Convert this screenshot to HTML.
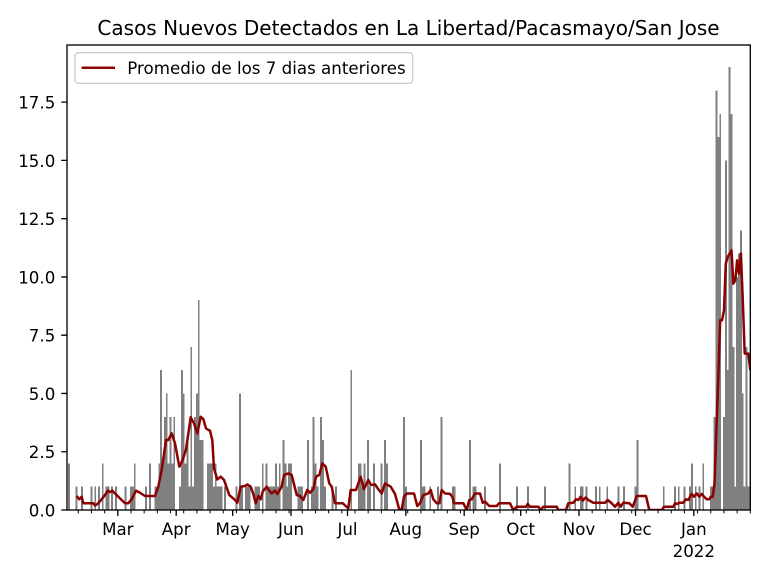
<!DOCTYPE html>
<html><head><meta charset="utf-8"><style>
body{margin:0;background:#fff}
svg{display:block}
text{font-family:"DejaVu Sans","Liberation Sans",sans-serif;fill:#000}
</style></head><body>
<svg width="768" height="576" viewBox="0 0 768 576" xmlns="http://www.w3.org/2000/svg">
<rect width="768" height="576" fill="#fff"/>
<defs><clipPath id="c"><rect x="67" y="45" width="683.3" height="465"/></clipPath></defs>
<g clip-path="url(#c)">
<g fill="#808080" shape-rendering="crispEdges" transform="translate(67,510) scale(1.8824,-23.308) translate(-0.5,0)">
<path d="M1 0h1v2h-1zM5 0h1v1h-1zM8 0h1v1h-1zM13 0h1v1h-1zM15 0h1v1h-1zM17 0h1v1h-1zM19 0h1v2h-1zM21 0h1v1h-1zM22 0h1v1h-1zM24 0h1v1h-1zM26 0h1v1h-1zM31 0h1v1h-1zM34 0h1v1h-1zM35 0h1v1h-1zM36 0h1v2h-1zM42 0h1v1h-1zM44 0h1v2h-1zM47 0h1v1h-1zM48 0h1v1h-1zM49 0h1v2h-1zM50 0h1v6h-1zM51 0h1v2h-1zM52 0h1v4h-1zM53 0h1v5h-1zM54 0h1v2h-1zM55 0h1v4h-1zM56 0h1v2h-1zM57 0h1v4h-1zM60 0h1v1h-1zM61 0h1v6h-1zM62 0h1v5h-1zM63 0h1v2h-1zM64 0h1v3h-1zM65 0h1v1h-1zM66 0h1v7h-1zM67 0h1v1h-1zM68 0h1v4h-1zM69 0h1v5h-1zM70 0h1v9h-1zM71 0h1v3h-1zM72 0h1v3h-1zM75 0h1v2h-1zM76 0h1v2h-1zM77 0h1v2h-1zM78 0h1v1h-1zM79 0h1v2h-1zM80 0h1v1h-1zM81 0h1v1h-1zM82 0h1v1h-1zM84 0h1v1h-1zM90 0h1v1h-1zM92 0h1v5h-1zM93 0h1v1h-1zM95 0h1v1h-1zM96 0h1v1h-1zM97 0h1v1h-1zM100 0h1v1h-1zM101 0h1v1h-1zM102 0h1v1h-1zM104 0h1v2h-1zM106 0h1v2h-1zM107 0h1v1h-1zM108 0h1v1h-1zM109 0h1v1h-1zM110 0h1v1h-1zM111 0h1v2h-1zM112 0h1v1h-1zM113 0h1v2h-1zM115 0h1v3h-1zM116 0h1v2h-1zM117 0h1v1h-1zM118 0h1v2h-1zM119 0h1v2h-1zM123 0h1v1h-1zM124 0h1v1h-1zM125 0h1v1h-1zM128 0h1v3h-1zM130 0h1v1h-1zM131 0h1v4h-1zM132 0h1v2h-1zM133 0h1v1h-1zM135 0h1v4h-1zM136 0h1v3h-1zM137 0h1v1h-1zM141 0h1v1h-1zM143 0h1v1h-1zM151 0h1v6h-1zM155 0h1v2h-1zM156 0h1v2h-1zM157 0h1v1h-1zM158 0h1v2h-1zM160 0h1v3h-1zM161 0h1v1h-1zM163 0h1v2h-1zM167 0h1v2h-1zM169 0h1v3h-1zM170 0h1v2h-1zM179 0h1v4h-1zM180 0h1v1h-1zM188 0h1v3h-1zM189 0h1v1h-1zM190 0h1v1h-1zM193 0h1v1h-1zM197 0h1v1h-1zM199 0h1v4h-1zM205 0h1v1h-1zM206 0h1v1h-1zM214 0h1v3h-1zM216 0h1v1h-1zM217 0h1v1h-1zM222 0h1v1h-1zM230 0h1v2h-1zM239 0h1v1h-1zM245 0h1v1h-1zM254 0h1v1h-1zM267 0h1v2h-1zM270 0h1v1h-1zM273 0h1v1h-1zM274 0h1v1h-1zM276 0h1v1h-1zM281 0h1v1h-1zM283 0h1v1h-1zM287 0h1v1h-1zM293 0h1v1h-1zM296 0h1v1h-1zM302 0h1v1h-1zM303 0h1v3h-1zM317 0h1v1h-1zM323 0h1v1h-1zM325 0h1v1h-1zM328 0h1v1h-1zM331 0h1v1h-1zM332 0h1v2h-1zM334 0h1v1h-1zM336 0h1v1h-1zM338 0h1v2h-1zM342 0h1v1h-1zM343 0h1v1h-1zM344 0h1v4h-1zM345 0h1v18h-1zM346 0h1v16h-1zM347 0h1v17h-1zM349 0h1v4h-1zM350 0h1v15h-1zM351 0h1v6h-1zM352 0h1v19h-1zM353 0h1v17h-1zM354 0h1v7h-1zM355 0h1v1h-1zM356 0h1v10h-1zM357 0h1v11h-1zM358 0h1v12h-1zM359 0h1v5h-1zM360 0h1v1h-1zM361 0h1v7h-1zM362 0h1v1h-1zM363 0h1v5h-1z"/>
</g>
<g transform="translate(0,510) scale(1,-23.308)">
<polyline fill="none" stroke="#8b0000" stroke-width="2.5" stroke-linejoin="round" vector-effect="non-scaling-stroke" points="76.7,0.6 79.3,0.46 81.7,0.57 83.3,0.29 93.3,0.29 95,0.19 98.3,0.29 101.7,0.46 105,0.64 107.7,0.83 110,0.77 112.3,0.83 115,0.71 120,0.5 125,0.29 128.3,0.29 131.7,0.46 136,0.83 140,0.74 145,0.6 155,0.6 158.3,1.0 161.7,1.72 166,3.0 168.3,3.0 171.7,3.29 175,2.86 179.3,1.86 182.7,2.15 186,2.6 190.7,3.98 194,3.72 197.3,3.29 200.7,4.0 203.3,3.9 206,3.5 210,3.4 212.3,3.0 214,1.79 217.3,1.31 220.7,1.43 224,1.29 229.3,0.64 235,0.43 237.3,0.31 240.7,1.0 245,1.03 247.3,1.1 250.7,1.0 253.3,0.69 255.7,0.29 258.3,0.6 260.7,0.46 262.7,0.79 266.7,1.0 269.3,0.83 271.7,0.71 275,0.83 277.3,0.69 281.7,1.0 284,1.5 288.3,1.57 291.7,1.5 296.7,0.64 300,0.6 303.3,0.43 307.3,0.86 310,0.74 313.3,0.89 316,1.43 319.3,1.5 322.3,2.0 325.7,1.86 329.3,1.14 331.7,1.0 335,0.29 342.7,0.29 348.3,0.07 350.7,0.86 356,0.86 360.7,1.43 364,0.89 368.3,1.29 371,1.07 375,1.1 378.3,0.89 381.7,0.71 385,1.14 390.7,1.0 395,0.69 399.3,0.02 401.7,0.02 404,0.57 406.7,0.71 414,0.71 417.3,0.17 420,0.29 423.3,0.64 428.3,0.71 430.7,0.86 433.3,0.46 436.7,0.29 439.3,0.29 441.7,0.86 445,0.71 450,0.69 452.3,0.57 454,0.29 463.3,0.29 466.7,0.0 469.3,0.43 471.7,0.46 475,0.71 480,0.71 482.7,0.31 485,0.36 489.3,0.17 496.7,0.17 499,0.29 510,0.29 513.3,0.0 516.7,0.14 526,0.14 527.7,0.26 530,0.14 538.3,0.14 540.7,0.0 543.3,0.14 556.7,0.14 558.3,0.0 566,0.0 568.3,0.29 573.3,0.31 576,0.46 578.3,0.43 580.7,0.57 582.7,0.4 585.7,0.54 588.3,0.43 593.3,0.31 605,0.31 607.7,0.43 611.7,0.29 615,0.14 618.3,0.31 620.7,0.14 623.3,0.31 629.3,0.29 632.7,0.14 636.7,0.6 646,0.6 649.3,0.0 661.7,0.0 664,0.14 673.3,0.14 675,0.29 677.3,0.26 679.3,0.31 683.3,0.31 686,0.46 688.3,0.43 691.7,0.69 694,0.57 696.7,0.71 699.3,0.57 701.7,0.69 704,0.57 706.7,0.46 709.3,0.46 710.8,0.57 712.7,0.57 714.5,1.14 716.4,3.43 718.3,5.71 720.2,8.14 722.1,8.14 724.0,8.57 725.8,10.57 727.7,10.86 729.6,11.0 731.5,11.14 733.4,9.71 735.3,9.86 737.1,10.71 739.0,10.14 740.9,11.0 742.8,9.0 744.7,6.71 746.6,6.71 748.4,6.71 750.3,6.0"/>
</g>
</g>
<rect x="67" y="45" width="683.3" height="465" fill="none" stroke="#000" stroke-width="1.33"/>
<path stroke="#000" stroke-width="1.33" d="M61.2 510H67M61.2 451.73H67M61.2 393.46H67M61.2 335.19H67M61.2 276.92H67M61.2 218.65H67M61.2 160.38H67M61.2 102.11H67"/>
<path stroke="#000" stroke-width="1.33" d="M117.8 510v5.83M176.2 510v5.83M232.7 510v5.83M291 510v5.83M347.5 510v5.83M405.8 510v5.83M464.2 510v5.83M520.7 510v5.83M579 510v5.83M635.5 510v5.83M693.8 510v5.83"/>
<g transform="translate(67,0) scale(1.8824,1)">
<path stroke="#000" stroke-width="1" vector-effect="non-scaling-stroke" d="M6 510v3.33M13 510v3.33M20 510v3.33M34 510v3.33M41 510v3.33M48 510v3.33M55 510v3.33M62 510v3.33M69 510v3.33M76 510v3.33M83 510v3.33M90 510v3.33M97 510v3.33M104 510v3.33M111 510v3.33M118 510v3.33M125 510v3.33M132 510v3.33M139 510v3.33M146 510v3.33M153 510v3.33M160 510v3.33M167 510v3.33M174 510v3.33M181 510v3.33M188 510v3.33M195 510v3.33M202 510v3.33M209 510v3.33M216 510v3.33M223 510v3.33M230 510v3.33M237 510v3.33M244 510v3.33M251 510v3.33M258 510v3.33M265 510v3.33M279 510v3.33M286 510v3.33M293 510v3.33M300 510v3.33M307 510v3.33M314 510v3.33M321 510v3.33M328 510v3.33M335 510v3.33M342 510v3.33M349 510v3.33M356 510v3.33M363 510v3.33"/>
</g>
<g font-size="16.67" text-anchor="end">
<text x="55.3" y="516.5">0.0</text>
<text x="55.3" y="458.2">2.5</text>
<text x="55.3" y="400">5.0</text>
<text x="55.3" y="341.7">7.5</text>
<text x="55.3" y="283.4">10.0</text>
<text x="55.3" y="225.2">12.5</text>
<text x="55.3" y="166.9">15.0</text>
<text x="55.3" y="108.6">17.5</text>
</g>
<g font-size="16.67" text-anchor="middle">
<text x="117.8" y="535">Mar</text>
<text x="176.2" y="535">Apr</text>
<text x="232.7" y="535">May</text>
<text x="291" y="535">Jun</text>
<text x="347.5" y="535">Jul</text>
<text x="405.8" y="535">Aug</text>
<text x="464.2" y="535">Sep</text>
<text x="520.7" y="535">Oct</text>
<text x="579" y="535">Nov</text>
<text x="635.5" y="535">Dec</text>
<text x="693.8" y="535">Jan</text>
<text x="693.8" y="557">2022</text>
</g>
<rect x="75" y="52.7" width="337.7" height="30.6" rx="3.3" fill="#fff" fill-opacity="0.8" stroke="#cccccc" stroke-width="1.33"/>
<line x1="81.7" y1="67.7" x2="115" y2="67.7" stroke="#8b0000" stroke-width="2.5"/>
<text x="127.3" y="74" font-size="16.67">Promedio de los 7 dias anteriores</text>
<text x="408.5" y="35" font-size="20" text-anchor="middle">Casos Nuevos Detectados en La Libertad/Pacasmayo/San Jose</text>
</svg>
</body></html>
